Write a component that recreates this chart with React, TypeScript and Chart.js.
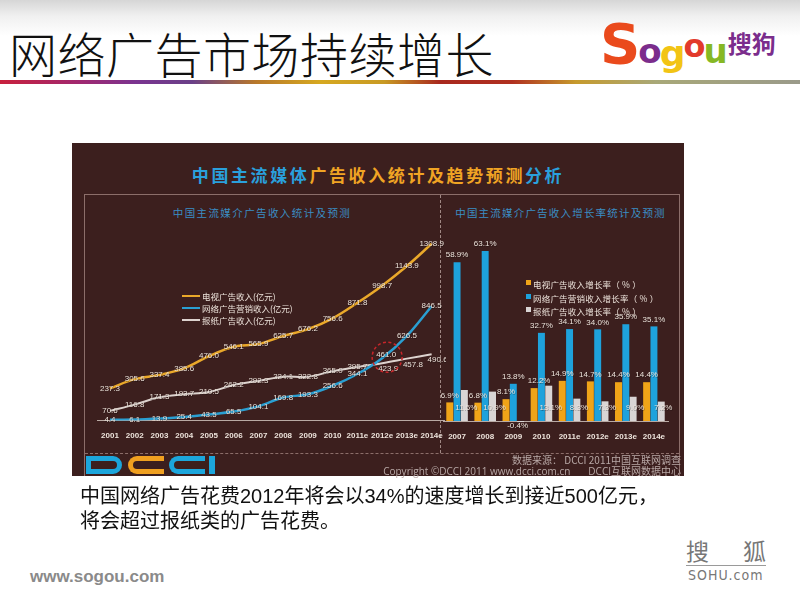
import React, { useEffect, useRef } from "react";
import { Chart, registerables } from "chart.js";

Chart.register(...registerables);

const years = ["2001", "2002", "2003", "2004", "2005", "2006", "2007", "2008", "2009", "2010", "2011e", "2012e", "2013e", "2014e"];
const tvRevenue = [237.3, 305.6, 337.4, 385.6, 476.0, 546.1, 565.9, 625.7, 676.2, 756.6, 871.8, 998.7, 1143.9, 1308.9];
const onlineRevenue = [4.4, 6.1, 13.9, 25.4, 43.5, 65.5, 104.1, 169.8, 193.3, 256.6, 344.1, 461.0, 626.5, 846.5];
const paperRevenue = [70.6, 116.8, 171.3, 193.7, 210.5, 262.2, 292.3, 324.1, 322.8, 365.0, 395.7, 423.9, 457.8, 490.6];

const growthYears = ["2007", "2008", "2009", "2010", "2011e", "2012e", "2013e", "2014e"];
const tvGrowth = [6.9, 6.8, 8.1, 12.2, 14.9, 14.7, 14.4, 14.4];
const onlineGrowth = [58.9, 63.1, 13.8, 32.7, 34.1, 34.0, 35.9, 35.1];
const paperGrowth = [11.5, 10.9, -0.4, 13.1, 8.3, 7.3, 9.0, 7.2];

const lineSeriesNames = ["电视广告收入(亿元)", "网络广告营销收入(亿元)", "报纸广告收入(亿元)"];
const barSeriesNames = ["电视广告收入增长率（ % ）", "网络广告营销收入增长率（ % ）", "报纸广告收入增长率（ % ）"];

const TV = "#eaa82a";
const NET = "#2a9fd2";
const PAPER = "#ddd3cf";
const BAR_TV = "#f0a418";
const BAR_NET = "#1ea2dc";
const BAR_PAPER = "#d9d5d5";
const LABEL = "#ece2da";
const PANEL = "#3c1f1e";
const CJK = '"Noto Sans CJK SC", "Noto Sans", sans-serif';
const LAT = '"Liberation Sans", Arial, sans-serif';

const lineLabelPlugin = {
  id: "lineLabels",
  afterDatasetsDraw(chart: any) {
    const ctx = chart.ctx;
    ctx.save();
    ctx.font = `8px ${LAT}`;
    ctx.textAlign = "center";
    ctx.textBaseline = "middle";
    chart.data.datasets.forEach((ds: any, di: number) => {
      const meta = chart.getDatasetMeta(di);
      meta.data.forEach((pt: any, i: number) => {
        const v = ds.data[i];
        let dx = 0;
        let dy = 0;
        if (di === 2 && i >= 11) { dx = 6; dy = 6; }
        if (di === 1 && i === 11) { dx = 4; dy = -3; }
        ctx.fillStyle = "rgba(0,0,0,0.35)";
        ctx.fillText(v.toFixed(1), pt.x + dx + 0.6, pt.y + dy + 0.6);
        ctx.fillStyle = LABEL;
        ctx.fillText(v.toFixed(1), pt.x + dx, pt.y + dy);
      });
    });
    // dashed red circle at the 2012e crossing
    const p = chart.getDatasetMeta(1).data[11];
    if (p) {
      ctx.beginPath();
      ctx.setLineDash([3, 2.5]);
      ctx.strokeStyle = "#c8262a";
      ctx.lineWidth = 1.5;
      ctx.arc(p.x + 5, p.y - 1, 15, 0, Math.PI * 2);
      ctx.stroke();
    }
    ctx.restore();
  },
};

const barLabelPlugin = {
  id: "barLabels",
  afterDatasetsDraw(chart: any) {
    const ctx = chart.ctx;
    ctx.save();
    ctx.font = `8px ${LAT}`;
    ctx.textAlign = "center";
    ctx.textBaseline = "middle";
    chart.data.datasets.forEach((ds: any, di: number) => {
      const meta = chart.getDatasetMeta(di);
      meta.data.forEach((bar: any, i: number) => {
        const v = ds.data[i];
        const txt = v.toFixed(1) + "%";
        let x = bar.x;
        let y = bar.y - 7;
        if (di === 2) {
          if (v < 0) { y = bar.base + 5; x = bar.x - 3; }
          else { y = bar.base - 13; x = bar.x + 2; }
        }
        if (di === 0 && i === 3) { x = bar.x + 5; }
        ctx.fillStyle = "rgba(0,0,0,0.35)";
        ctx.fillText(txt, x + 0.6, y + 0.6);
        ctx.fillStyle = LABEL;
        ctx.fillText(txt, x, y);
      });
    });
    ctx.restore();
  },
};

function LineChart() {
  const ref = useRef<HTMLCanvasElement>(null);
  useEffect(() => {
    const chart = new Chart(ref.current!, {
      type: "line",
      data: {
        labels: years,
        datasets: [
          { label: lineSeriesNames[0], data: tvRevenue, borderColor: TV, borderWidth: 2.5, pointRadius: 0, tension: 0.35, fill: false },
          { label: lineSeriesNames[1], data: onlineRevenue, borderColor: NET, borderWidth: 2.5, pointRadius: 0, tension: 0.35, fill: false },
          { label: lineSeriesNames[2], data: paperRevenue, borderColor: PAPER, borderWidth: 2, pointRadius: 0, tension: 0.35, fill: false },
        ],
      },
      options: {
        animation: false,
        responsive: false,
        maintainAspectRatio: false,
        layout: { padding: { left: 13.6, right: 2, top: 6.5, bottom: 11 } },
        plugins: { legend: { display: false }, tooltip: { enabled: false } },
        scales: {
          x: {
            offset: true,
            grid: { display: false },
            border: { display: true, color: "#b9aaa4", width: 1 },
            ticks: { color: LABEL, font: { size: 8, weight: "bold", family: LAT }, padding: 3, maxRotation: 0, autoSkip: false },
          },
          y: { display: false, min: 0, max: 1400 },
        },
      },
      plugins: [lineLabelPlugin],
    } as any);
    return () => chart.destroy();
  }, []);
  return <canvas ref={ref} width={362} height={230} style={{ position: "absolute", left: 84, top: 225 }} />;
}

function BarChart() {
  const ref = useRef<HTMLCanvasElement>(null);
  useEffect(() => {
    const chart = new Chart(ref.current!, {
      type: "bar",
      data: {
        labels: growthYears,
        datasets: [
          { label: barSeriesNames[0], data: tvGrowth, backgroundColor: BAR_TV, categoryPercentage: 0.78, barPercentage: 0.95, clip: false },
          { label: barSeriesNames[1], data: onlineGrowth, backgroundColor: BAR_NET, categoryPercentage: 0.78, barPercentage: 0.95, clip: false },
          { label: barSeriesNames[2], data: paperGrowth, backgroundColor: BAR_PAPER, categoryPercentage: 0.78, barPercentage: 0.95, clip: false },
        ],
      },
      options: {
        animation: false,
        responsive: false,
        maintainAspectRatio: false,
        layout: { padding: { left: 2, right: 13, top: 7.3, bottom: 10.4 } },
        plugins: { legend: { display: false }, tooltip: { enabled: false } },
        scales: {
          x: {
            grid: { display: false },
            border: { display: true, color: "#b9aaa4", width: 1 },
            ticks: { color: LABEL, font: { size: 8, weight: "bold", family: LAT }, padding: 3, maxRotation: 0, autoSkip: false },
          },
          y: { display: false, min: 0, max: 70 },
        },
      },
      plugins: [barLabelPlugin],
    } as any);
    return () => chart.destroy();
  }, []);
  return <canvas ref={ref} width={240} height={230} style={{ position: "absolute", left: 441, top: 225 }} />;
}

const abs = (o: React.CSSProperties): React.CSSProperties => ({ position: "absolute", ...o });

export default function App() {
  const lineColors = [TV, NET, PAPER];
  const barColors = [BAR_TV, BAR_NET, BAR_PAPER];
  return (
    <div style={{ position: "absolute", left: 0, top: 0, width: 800, height: 600, overflow: "hidden", background: "linear-gradient(to bottom, #d6d6d6 0px, #f0f0f0 16px, #ffffff 36px)", fontFamily: CJK }}>
      {/* Slide title */}
      <div style={abs({ left: 9, top: 22, fontSize: 48, lineHeight: "60px", color: "#111", fontWeight: 300, fontFamily: CJK, whiteSpace: "nowrap", letterSpacing: 0.5 })}>网络广告市场持续增长</div>
      {/* Sogou logo */}
      <div style={abs({ left: 600, top: 12, whiteSpace: "nowrap", fontFamily: '"DejaVu Sans", sans-serif', fontWeight: 900, lineHeight: "64px", letterSpacing: -2 })}>
        <span style={{ color: "#ea4a1c", fontSize: 56 }}>S</span>
        <span style={{ color: "#7b2d8c", fontSize: 34 }}>o</span>
        <span style={{ color: "#f2c414", fontSize: 36, position: "relative", top: 3 }}>g</span>
        <span style={{ color: "#e23a2c", fontSize: 32, position: "relative", top: -6 }}>o</span>
        <span style={{ color: "#86b824", fontSize: 34 }}>u</span>
        <span style={{ color: "#7b2d8c", fontSize: 24, fontFamily: CJK, fontWeight: 700, position: "relative", top: -10, letterSpacing: 0, marginLeft: 2 }}>搜狗</span>
      </div>
      {/* coloured rule */}
      <div style={abs({ left: 0, top: 80, width: 800, height: 4, background: "linear-gradient(to right, #c8203c 0%, #a02870 10%, #7a3490 17%, #6a4088 24%, #b8782a 32%, #d6a820 40%, #c89a24 48%, #a8281e 55%, #b03020 64%, #c69a2c 72%, #a8a878 82%, #9a9a8a 100%)" })} />

      {/* Dark panel */}
      <div style={abs({ left: 72, top: 143, width: 612, height: 333, background: PANEL })} />
      <div style={abs({ left: 72, top: 163, width: 612, textAlign: "center", fontSize: 17, fontWeight: 700, letterSpacing: 2.6, lineHeight: "24px", whiteSpace: "nowrap" })}>
        <span style={{ color: "#2aa0dc" }}>中国主流媒体</span>
        <span style={{ color: "#f0a424" }}>广告收入统计及趋势预测</span>
        <span style={{ color: "#2aa0dc" }}>分析</span>
      </div>
      {/* inner frame */}
      <div style={abs({ left: 84, top: 194, width: 596, height: 282, borderTop: "1px solid #8c6e6a", borderLeft: "1px solid #8c6e6a", borderRight: "1px solid #8c6e6a", boxSizing: "border-box" })} />
      <div style={abs({ left: 440, top: 195, width: 0, height: 258, borderLeft: "1px dashed #a08884" })} />
      <div style={abs({ left: 85, top: 453, width: 594, height: 0, borderTop: "1px dashed #8c6e6a" })} />
      <div style={abs({ left: 84, top: 205, width: 356, textAlign: "center", fontSize: 10.5, color: "#3a8ec4", letterSpacing: 1.4, lineHeight: "16px", whiteSpace: "nowrap" })}>中国主流媒介广告收入统计及预测</div>
      <div style={abs({ left: 441, top: 205, width: 239, textAlign: "center", fontSize: 10.5, color: "#3a8ec4", letterSpacing: 1.2, lineHeight: "16px", whiteSpace: "nowrap" })}>中国主流媒介广告收入增长率统计及预测</div>

      <LineChart />
      <BarChart />

      {/* line legend */}
      {lineSeriesNames.map((n, i) => (
        <div key={n} style={abs({ left: 182, top: 290 + i * 12, height: 12, display: "flex", alignItems: "center", whiteSpace: "nowrap" })}>
          <div style={{ width: 18, height: 2, background: lineColors[i], marginRight: 2 }} />
          <span style={{ fontSize: 8.5, color: LABEL, lineHeight: "12px" }}>{n}</span>
        </div>
      ))}
      {/* bar legend */}
      {barSeriesNames.map((n, i) => (
        <div key={n} style={abs({ left: 526, top: 278 + i * 13.5, height: 13, display: "flex", alignItems: "center", whiteSpace: "nowrap" })}>
          <div style={{ width: 5, height: 5, background: barColors[i], marginRight: 2, position: "relative", top: -2 }} />
          <span style={{ fontSize: 8.5, color: LABEL, lineHeight: "13px", letterSpacing: 0.2 }}>{n}</span>
        </div>
      ))}

      {/* DCCI logo */}
      <div style={abs({ left: 86, top: 456, width: 36, height: 18, border: "5px solid #1ca6dc", borderRadius: "0 9px 9px 0", boxSizing: "border-box" })} />
      <div style={abs({ left: 128, top: 456, width: 36, height: 18, border: "5px solid #f0a020", borderRight: "none", borderRadius: "9px 0 0 9px", boxSizing: "border-box" })} />
      <div style={abs({ left: 169, top: 456, width: 36, height: 18, border: "5px solid #1ca6dc", borderRight: "none", borderRadius: "9px 0 0 9px", boxSizing: "border-box" })} />
      <div style={abs({ left: 209, top: 456, width: 6, height: 18, background: "#1ca6dc" })} />
      {/* source */}
      <div style={abs({ left: 300, top: 454, width: 381, textAlign: "right", fontSize: 10, color: "#b8a8a6", lineHeight: "12px", whiteSpace: "nowrap" })}>数据来源： DCCI 2011中国互联网调查</div>
      <div style={abs({ left: 250, top: 465, width: 431, textAlign: "right", fontSize: 10, color: "#b8a8a6", lineHeight: "12px", whiteSpace: "nowrap", fontFamily: `"Open Sans", ${CJK}` })}>
        Copyright ©DCCI 2011 www.dcci.com.cn<span style={{ display: "inline-block", width: 18 }} />DCCI互联网数据中心
      </div>

      {/* caption */}
      <div style={abs({ left: 80, top: 484, fontSize: 20, lineHeight: "25px", color: "#111", fontFamily: `"Liberation Sans", ${CJK}`, whiteSpace: "nowrap" })}>
        中国网络广告花费2012年将会以34%的速度增长到接近500亿元，<br />将会超过报纸类的广告花费。
      </div>

      {/* footer */}
      <div style={abs({ left: 30, top: 566, fontSize: 17, fontWeight: 700, color: "#8a8a8a", fontFamily: LAT, lineHeight: "22px" })}>www.sogou.com</div>
      <div style={abs({ left: 686, top: 536, width: 80, fontSize: 23, color: "#777", lineHeight: "28px", display: "flex", justifyContent: "space-between", fontFamily: CJK })}>
        <span>搜</span><span>狐</span>
      </div>
      <div style={abs({ left: 686, top: 565, width: 80, height: 0, borderTop: "1px solid #9a9a9a" })} />
      <div style={abs({ left: 688, top: 567, width: 78, fontSize: 14, color: "#777", lineHeight: "16px", fontFamily: '"DejaVu Sans Condensed", "DejaVu Sans", sans-serif', letterSpacing: 1 })}>SOHU.com</div>
    </div>
  );
}
